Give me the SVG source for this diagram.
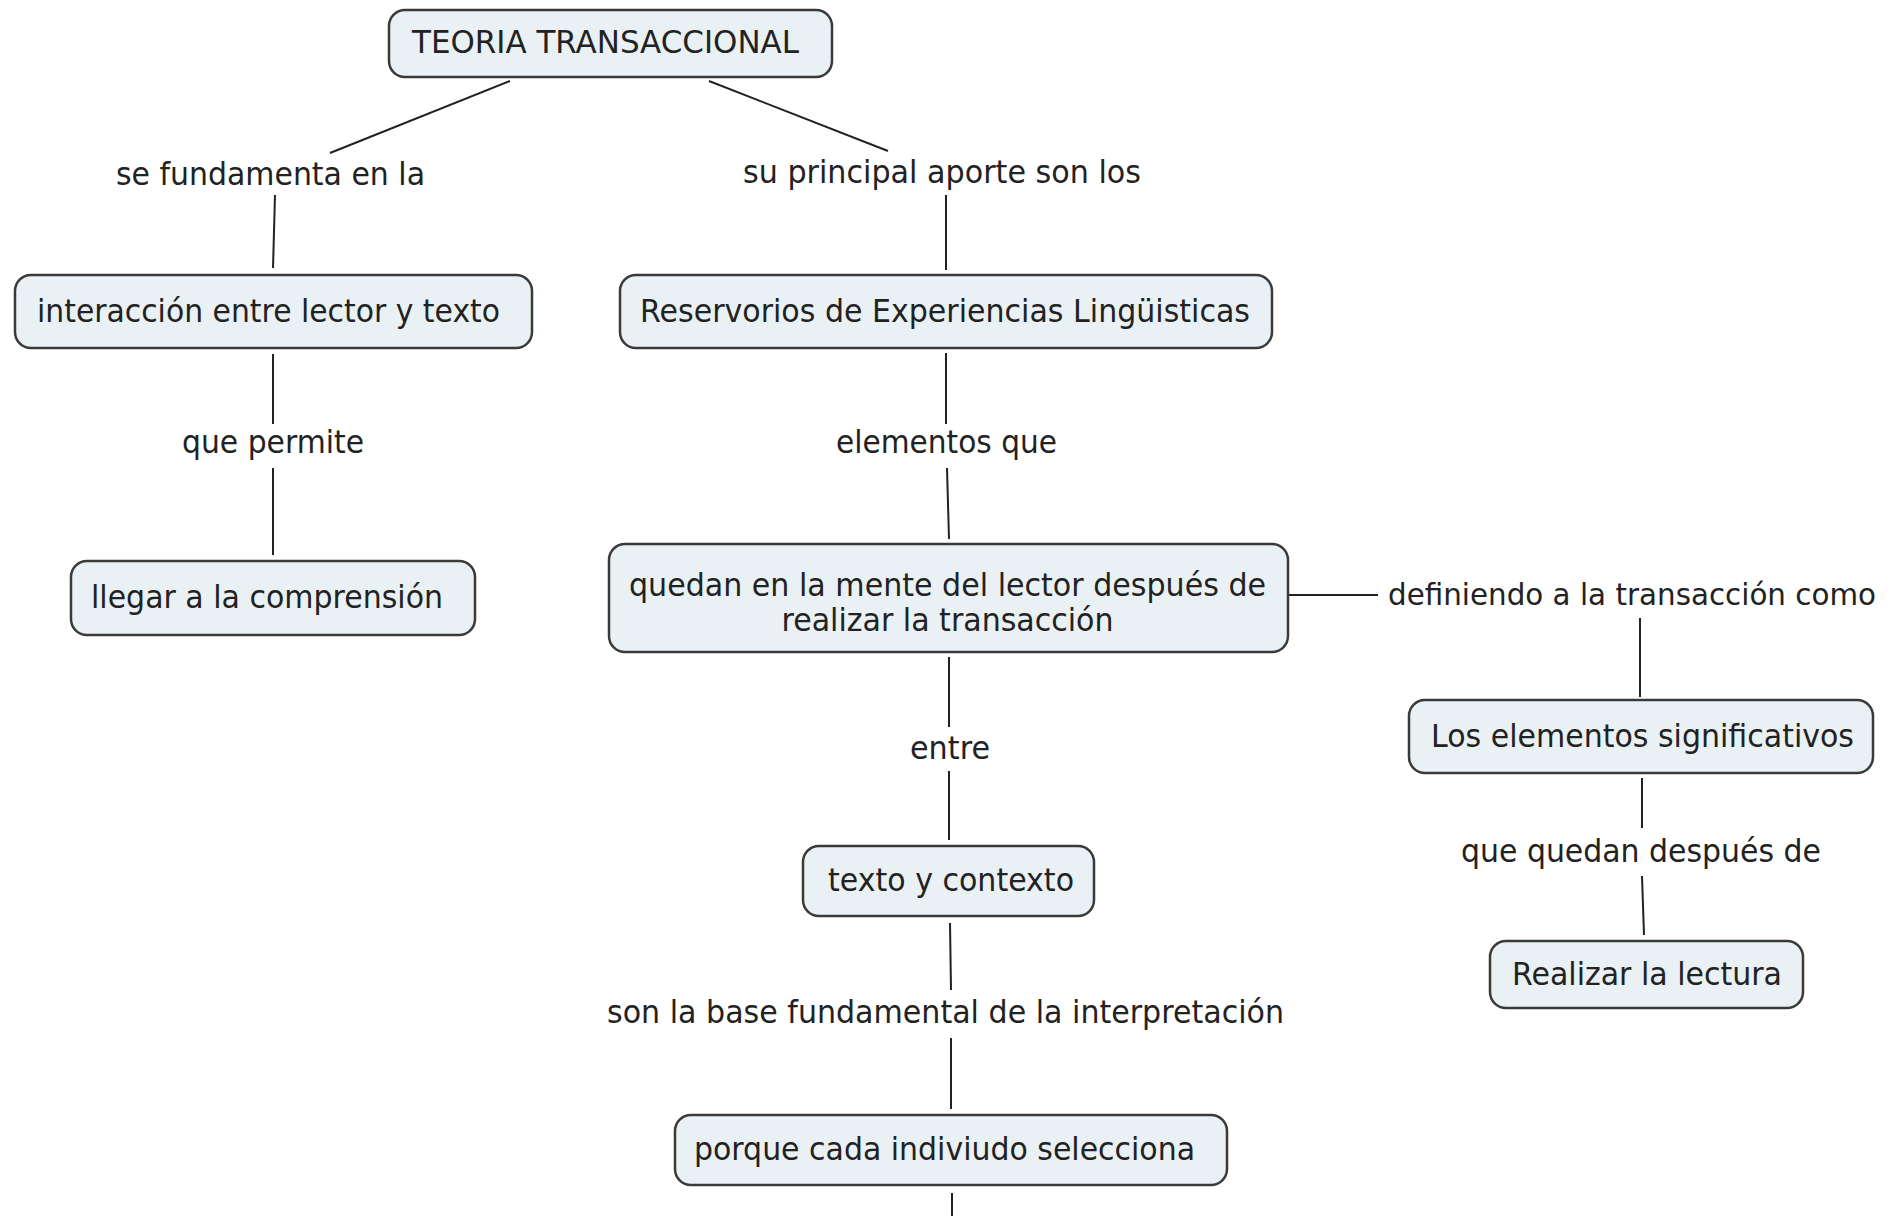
<svg xmlns="http://www.w3.org/2000/svg" width="1900" height="1216" viewBox="0 0 1900 1216">
<style>
.box{fill:#eaf1f4;stroke:#3a3a3a;stroke-width:2.5}
.t{font-family:"DejaVu Sans","Verdana",sans-serif;font-size:32px;fill:#222;text-anchor:middle}
.c{stroke:#222;stroke-width:2;fill:none}
</style>
<rect width="1900" height="1216" fill="#ffffff"/>
<g id="connectors">
<line class="c" x1="510" y1="81" x2="330" y2="153"/>
<line class="c" x1="709" y1="81" x2="888" y2="151"/>
<line class="c" x1="275" y1="195" x2="273" y2="268"/>
<line class="c" x1="946" y1="195" x2="946" y2="270"/>
<line class="c" x1="273" y1="354" x2="273" y2="424"/>
<line class="c" x1="273" y1="468" x2="273" y2="555"/>
<line class="c" x1="946" y1="353" x2="946" y2="424"/>
<line class="c" x1="947" y1="468" x2="949" y2="539"/>
<line class="c" x1="949" y1="657" x2="949" y2="727"/>
<line class="c" x1="949" y1="771" x2="949" y2="840"/>
<line class="c" x1="1289" y1="595" x2="1378" y2="595"/>
<line class="c" x1="1640" y1="618" x2="1640" y2="697"/>
<line class="c" x1="1642" y1="778" x2="1642" y2="828"/>
<line class="c" x1="1642" y1="876" x2="1644" y2="935"/>
<line class="c" x1="950" y1="923" x2="951" y2="990"/>
<line class="c" x1="951" y1="1038" x2="951" y2="1109"/>
<line class="c" x1="952" y1="1193" x2="952" y2="1216"/>
</g>
<g id="labels">
<text class="t" x="270.5" y="185" textLength="309" lengthAdjust="spacingAndGlyphs">se fundamenta en la</text>
<text class="t" x="942" y="183" textLength="398" lengthAdjust="spacingAndGlyphs">su principal aporte son los</text>
<text class="t" x="273" y="453" textLength="182" lengthAdjust="spacingAndGlyphs">que permite</text>
<text class="t" x="946.5" y="453" textLength="221" lengthAdjust="spacingAndGlyphs">elementos que</text>
<text class="t" x="1632" y="605" textLength="488" lengthAdjust="spacingAndGlyphs" style="font-size:30px">definiendo a la transacción como</text>
<text class="t" x="950" y="759" textLength="80" lengthAdjust="spacingAndGlyphs">entre</text>
<text class="t" x="1641" y="862" textLength="360" lengthAdjust="spacingAndGlyphs">que quedan después de</text>
<text class="t" x="945.5" y="1023" textLength="677" lengthAdjust="spacingAndGlyphs">son la base fundamental de la interpretación</text>
</g>
<g id="n-teoria">
<rect class="box" x="389" y="10" width="443" height="67" rx="16"/>
<text class="t" x="605.5" y="53" textLength="387" lengthAdjust="spacingAndGlyphs">TEORIA TRANSACCIONAL</text>
</g>
<g id="n-interaccion">
<rect class="box" x="15" y="275" width="517" height="73" rx="16"/>
<text class="t" x="268.5" y="322" textLength="463" lengthAdjust="spacingAndGlyphs">interacción entre lector y texto</text>
</g>
<g id="n-reservorios">
<rect class="box" x="620" y="275" width="652" height="73" rx="16"/>
<text class="t" x="945" y="322" textLength="610" lengthAdjust="spacingAndGlyphs">Reservorios de Experiencias Lingüisticas</text>
</g>
<g id="n-llegar">
<rect class="box" x="71" y="561" width="404" height="74" rx="16"/>
<text class="t" x="267" y="608" textLength="352" lengthAdjust="spacingAndGlyphs">llegar a la comprensión</text>
</g>
<g id="n-quedan">
<rect class="box" x="609" y="544" width="679" height="108" rx="16"/>
<text class="t" x="947.5" y="596" textLength="637" lengthAdjust="spacingAndGlyphs">quedan en la mente del lector después de</text>
<text class="t" x="947.5" y="631" textLength="332" lengthAdjust="spacingAndGlyphs">realizar la transacción</text>
</g>
<g id="n-elementos">
<rect class="box" x="1409" y="700" width="464" height="73" rx="16"/>
<text class="t" x="1642.5" y="747" textLength="423" lengthAdjust="spacingAndGlyphs">Los elementos significativos</text>
</g>
<g id="n-realizar">
<rect class="box" x="1490" y="941" width="313" height="67" rx="16"/>
<text class="t" x="1647" y="985" textLength="270" lengthAdjust="spacingAndGlyphs">Realizar la lectura</text>
</g>
<g id="n-texto">
<rect class="box" x="803" y="846" width="291" height="70" rx="16"/>
<text class="t" x="951" y="891" textLength="246" lengthAdjust="spacingAndGlyphs">texto y contexto</text>
</g>
<g id="n-porque">
<rect class="box" x="675" y="1115" width="552" height="70" rx="16"/>
<text class="t" x="944.5" y="1160" textLength="501" lengthAdjust="spacingAndGlyphs">porque cada indiviudo selecciona</text>
</g>
</svg>
